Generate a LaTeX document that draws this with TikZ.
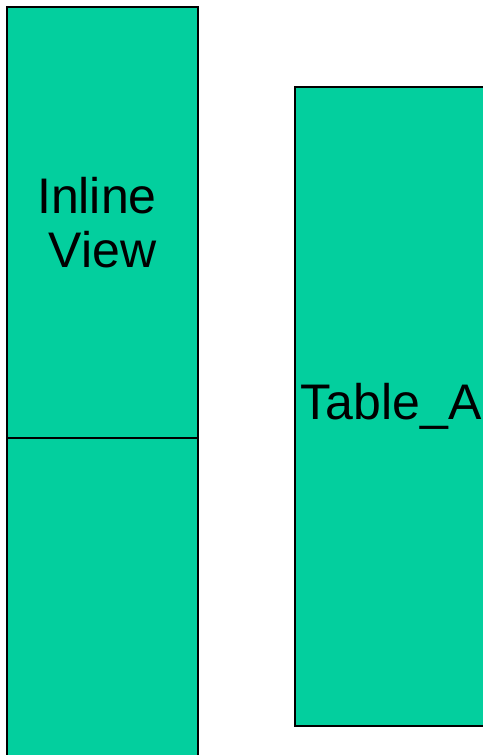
\documentclass[tikz,border=0pt]{standalone}
\usepackage{fontspec}
\setmainfont{Liberation Sans}
\usepackage{xcolor}
\definecolor{tablegreen}{RGB}{3,207,158}
\begin{document}
\begin{tikzpicture}[
    x=1pt, y=-1pt,
    cell/.style={draw, line width=1.8pt, fill=tablegreen, inner sep=0pt, outer sep=0pt,
        anchor=north west, align=center, font=\fontsize{50}{54}\selectfont},
]
\useasboundingbox (0,0) rectangle (482,755);
% Inline view, split in two cells
\node[cell, minimum width=191pt, minimum height=431pt] (inline) at (7,7) {Inline\hphantom{i}\\View};
\node[cell, minimum width=191pt, minimum height=325pt] (lower) at (inline.south west) {};

% Base table
\node[cell, minimum width=192pt, minimum height=639pt] (tablea) at (295,87) {Table\_A};
\end{tikzpicture}
\end{document}
